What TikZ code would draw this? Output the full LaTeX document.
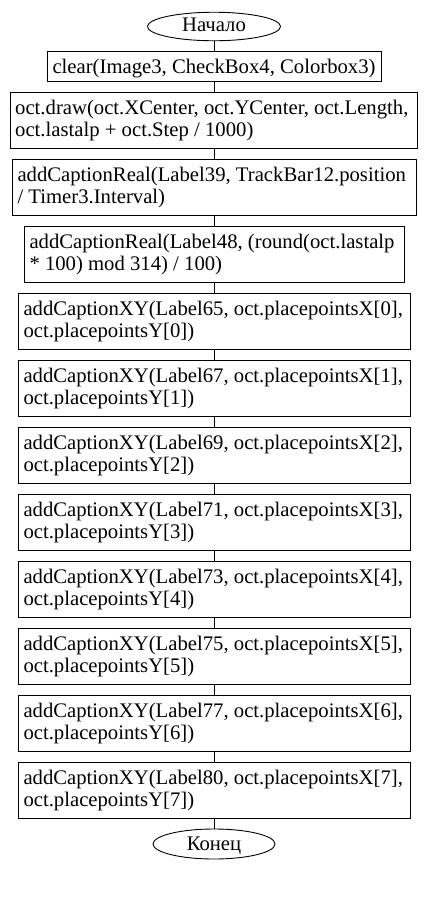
\documentclass[tikz,border=0pt]{standalone}
\usepackage{fontspec}
\setmainfont{Liberation Serif}
\usetikzlibrary{shapes.geometric}

\tikzset{
  block/.style={draw=black, line width=1pt, rectangle, inner sep=0pt},
  term/.style={draw=black, line width=0.9pt, ellipse, inner sep=0pt},
  txt/.style={inner sep=0pt, font=\fontsize{20.7}{21}\selectfont},
  link/.style={draw=black, line width=1pt},
}

% \flowbox{name}{left}{top}{right}{bottom}{first line}{second line}
\newcommand\flowbox[7]{%
  \node[block, minimum width={(#4-#2)*1pt}, minimum height={(#5-#3)*1pt}]
    (#1) at ({(#2+#4)/2},{-(#3+#5)/2}) {};
  \node[txt, anchor=base west] (#1a) at ({#2+5},{-(#3+22.5)}) {#6};
  \if\relax\detokenize{#7}\relax\else
    \node[txt, anchor=base west] (#1b) at ({#2+5},{-(#3+44)}) {#7};
  \fi
}

\begin{document}
\begin{tikzpicture}[x=1pt, y=1pt]
  \useasboundingbox (0,0) rectangle (428,-922);

  % start and end terminals
  \node[term, minimum width=133pt, minimum height=28.5pt] (start) at (214,-26.5) {};
  \node[txt, anchor=base] (startt) at (214,-31.5) {Начало};

  \flowbox{b1}{47.3}{51}{381}{81}{clear(Image3, CheckBox4, Colorbox3)}{}
  \flowbox{b2}{10}{92.3}{417}{148.3}{oct.draw(oct.XCenter, oct.YCenter, oct.Length,}{oct.lastalp + oct.Step / 1000)}
  \flowbox{b3}{12.3}{159.3}{416.7}{215}{addCaptionReal(Label39, TrackBar12.position}{/ Timer3.Interval)}
  \flowbox{b4}{24.3}{226.3}{404.3}{282.3}{addCaptionReal(Label48, (round(oct.lastalp}{* 100) mod 314) / 100)}
  \flowbox{b5}{18.3}{293.3}{410.7}{349.3}{addCaptionXY(Label65, oct.placepointsX[0],}{oct.placepointsY[0])}
  \flowbox{b6}{18.3}{360.3}{410.7}{416.3}{addCaptionXY(Label67, oct.placepointsX[1],}{oct.placepointsY[1])}
  \flowbox{b7}{18.3}{427.3}{410.7}{483.3}{addCaptionXY(Label69, oct.placepointsX[2],}{oct.placepointsY[2])}
  \flowbox{b8}{18.3}{494.3}{410.7}{550.3}{addCaptionXY(Label71, oct.placepointsX[3],}{oct.placepointsY[3])}
  \flowbox{b9}{18.3}{561.3}{410.7}{617.3}{addCaptionXY(Label73, oct.placepointsX[4],}{oct.placepointsY[4])}
  \flowbox{b10}{18.3}{628.3}{410.7}{684.3}{addCaptionXY(Label75, oct.placepointsX[5],}{oct.placepointsY[5])}
  \flowbox{b11}{18.3}{695.3}{410.7}{751.3}{addCaptionXY(Label77, oct.placepointsX[6],}{oct.placepointsY[6])}
  \flowbox{b12}{18.3}{762.3}{410.7}{818.3}{addCaptionXY(Label80, oct.placepointsX[7],}{oct.placepointsY[7])}

  \node[term, minimum width=122pt, minimum height=30pt] (stop) at (214,-844) {};
  \node[txt, anchor=base] (stopt) at (214,-850) {Конец};

  % vertical connectors down the chain
  \foreach \a/\b in {start/b1, b1/b2, b2/b3, b3/b4, b4/b5, b5/b6, b6/b7,
                     b7/b8, b8/b9, b9/b10, b10/b11, b11/b12, b12/stop}
    \draw[link] (\a.south -| 214,0) -- (\b.north -| 214,0);
\end{tikzpicture}
\end{document}
